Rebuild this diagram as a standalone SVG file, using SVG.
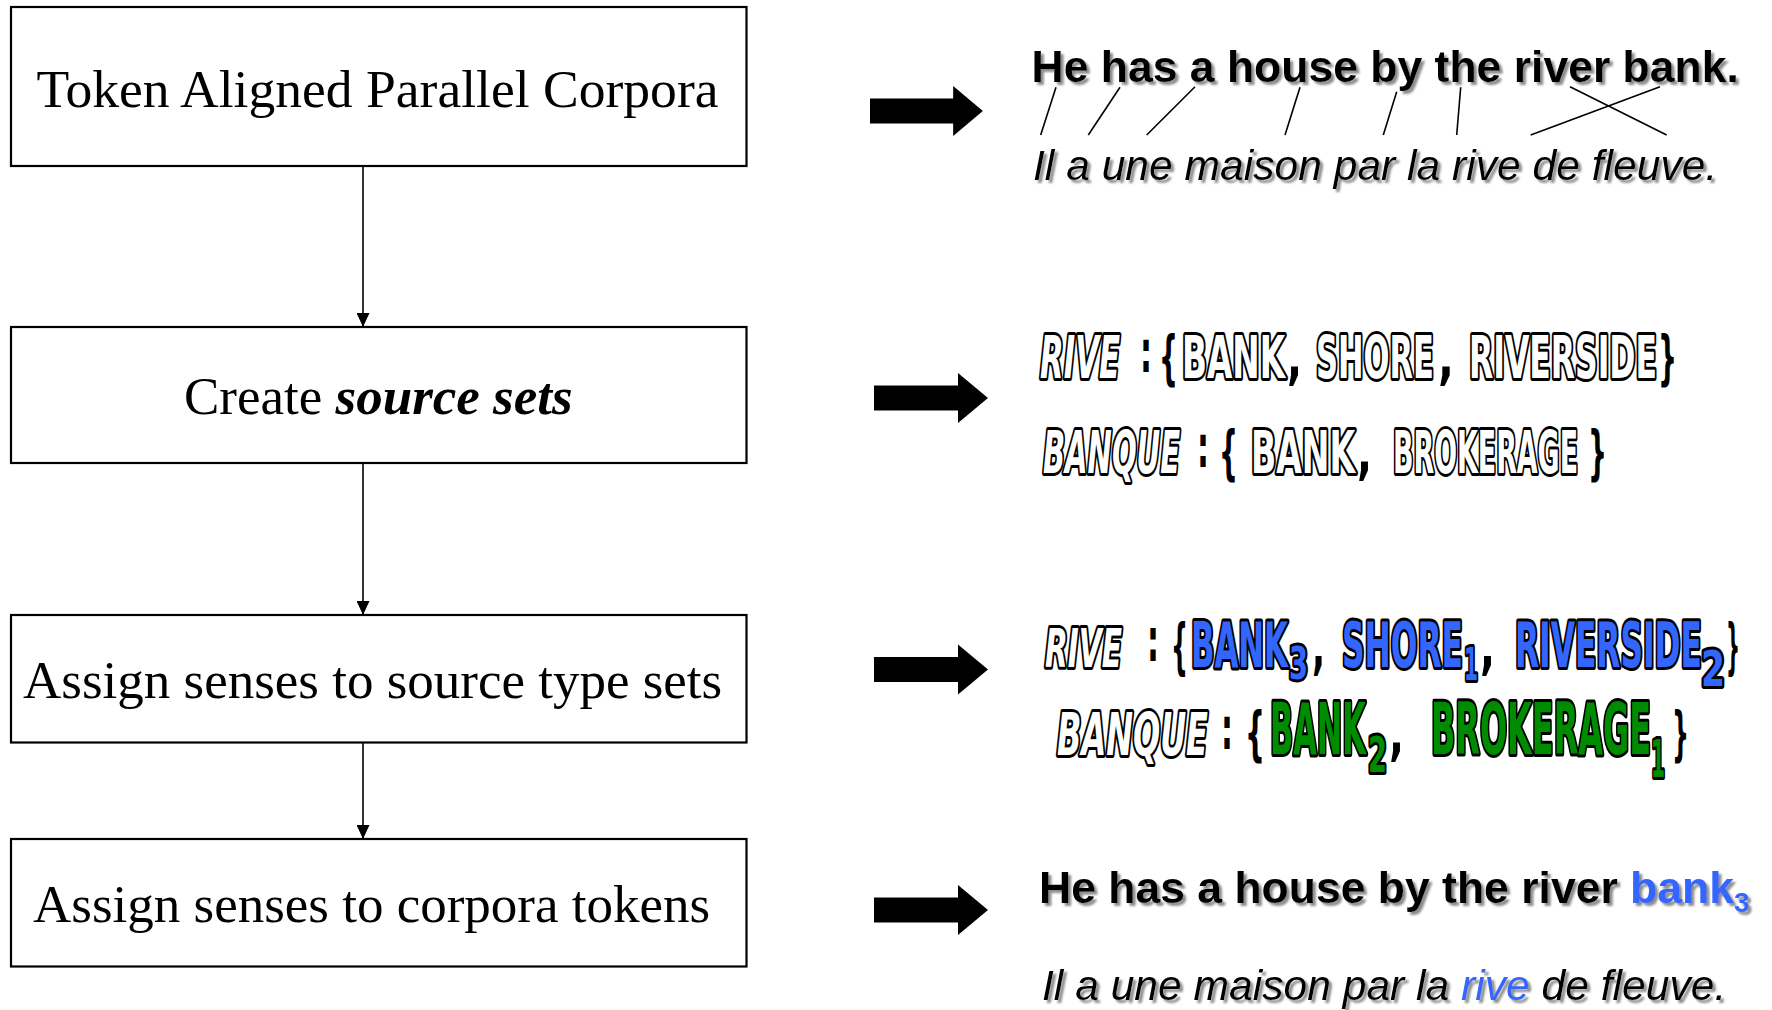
<svg xmlns="http://www.w3.org/2000/svg" width="1772" height="1010" viewBox="0 0 1772 1010">
  <defs>
    <style>
      .box{fill:#fff;stroke:#000;stroke-width:2.2}
      .lbl{font-family:"Liberation Serif","Times New Roman",serif;font-size:53px;fill:#000}
      .conn{stroke:#000;stroke-width:1.6;fill:none}
      .en{font-family:"Liberation Sans",Arial,sans-serif;font-weight:bold;font-size:44.5px;fill:#000;filter:url(#shadow)}
      .fr{font-family:"Liberation Sans",Arial,sans-serif;font-style:italic;font-size:42.6px;fill:#000;filter:url(#shadow)}
      .align{stroke:#000;stroke-width:1.6}
      .imp{font-family:"DejaVu Sans Condensed","DejaVu Sans","Liberation Sans",sans-serif;font-weight:bold;fill:#000}
      .out{stroke:#000;stroke-width:6;paint-order:stroke;stroke-linejoin:round;fill:#fff}
      .it{font-style:italic}
      .blue{fill:#3366ff}
      .green{fill:#008c00}
      .big{fill:#000}
    </style>
    <filter id="shadow" x="-5%" y="-20%" width="110%" height="150%">
      <feDropShadow dx="3" dy="3" stdDeviation="1" flood-color="#8c8c8c" flood-opacity="1"/>
    </filter>
    <marker id="tri" markerUnits="userSpaceOnUse" markerWidth="14" markerHeight="13" viewBox="0 0 14 13" refX="14" refY="6.5" orient="auto">
      <path d="M0,0 L14,6.5 L0,13 Z" fill="#000"/>
    </marker>
    <path id="bigArrow" d="M0,-12.5 H84 V-25 L114,0 L84,25 V12.5 H0 Z"/>
  </defs>

  <rect width="1772" height="1010" fill="#fff"/>

  <!-- flow steps -->
  <g id="step-corpora">
    <rect class="box" x="11" y="7" width="735.5" height="159"/>
    <text class="lbl" x="36.5" y="107" textLength="682" lengthAdjust="spacingAndGlyphs">Token Aligned Parallel Corpora</text>
  </g>
  <g id="step-source-sets">
    <rect class="box" x="11" y="327" width="735.5" height="136"/>
    <text class="lbl" x="184" y="414">Create <tspan font-weight="bold" font-style="italic">source sets</tspan></text>
  </g>
  <g id="step-type-senses">
    <rect class="box" x="11" y="615" width="735.5" height="127.5"/>
    <text class="lbl" x="23" y="698">Assign senses to source type sets</text>
  </g>
  <g id="step-token-senses">
    <rect class="box" x="11" y="839" width="735.5" height="127.5"/>
    <text class="lbl" x="33" y="922">Assign senses to corpora tokens</text>
  </g>

  <!-- flow connectors -->
  <g id="connectors">
    <line class="conn" x1="363" y1="166" x2="363" y2="327" marker-end="url(#tri)"/>
    <line class="conn" x1="363" y1="463" x2="363" y2="615" marker-end="url(#tri)"/>
    <line class="conn" x1="363" y1="742.5" x2="363" y2="839" marker-end="url(#tri)"/>
    <use href="#bigArrow" class="big" transform="translate(870,111) scale(0.99,1)"/>
    <use href="#bigArrow" class="big" transform="translate(874,398)"/>
    <use href="#bigArrow" class="big" transform="translate(874,669.5)"/>
    <use href="#bigArrow" class="big" transform="translate(874,910)"/>
  </g>

  <!-- example: aligned sentence pair -->
  <g id="example-alignment">
    <text class="en" x="1031.5" y="82">He has a house by the river bank.</text>
    <g class="align">
      <line x1="1056" y1="87.3" x2="1040.7" y2="135"/>
      <line x1="1120" y1="87.3" x2="1088.3" y2="135"/>
      <line x1="1195" y1="86.7" x2="1146.7" y2="135"/>
      <line x1="1300" y1="87.3" x2="1285" y2="135"/>
      <line x1="1396.7" y1="91.7" x2="1383.3" y2="135"/>
      <line x1="1460.7" y1="87.3" x2="1456.7" y2="135"/>
      <line x1="1570" y1="86.7" x2="1666.7" y2="135"/>
      <line x1="1660" y1="86.7" x2="1530.7" y2="135"/>
    </g>
    <text class="fr" x="1033" y="180">Il a une maison par la rive de fleuve.</text>
  </g>

  <!-- example: source sets (condensed lettering: rows are squeezed to half width) -->
  <g id="example-source-sets" class="imp" font-size="59" transform="scale(0.5,1)">
    <text y="378"><tspan class="out it" x="2080" textLength="160" lengthAdjust="spacingAndGlyphs">RIVE</tspan><tspan x="2280" y="372" textLength="24" lengthAdjust="spacingAndGlyphs">:</tspan><tspan x="2318" y="378" textLength="38" lengthAdjust="spacingAndGlyphs">{</tspan><tspan class="out" x="2364" textLength="206" lengthAdjust="spacingAndGlyphs">BANK</tspan><tspan x="2574" textLength="30" lengthAdjust="spacingAndGlyphs">,</tspan><tspan class="out" x="2632" textLength="236" lengthAdjust="spacingAndGlyphs">SHORE</tspan><tspan x="2876" textLength="32" lengthAdjust="spacingAndGlyphs">,</tspan><tspan class="out" x="2938" textLength="376" lengthAdjust="spacingAndGlyphs">RIVERSIDE</tspan><tspan x="3316" textLength="38" lengthAdjust="spacingAndGlyphs">}</tspan></text>
    <text y="473"><tspan class="out it" x="2086" textLength="274" lengthAdjust="spacingAndGlyphs">BANQUE</tspan><tspan x="2394" y="467" textLength="24" lengthAdjust="spacingAndGlyphs">:</tspan><tspan x="2438" y="473" textLength="38" lengthAdjust="spacingAndGlyphs">{</tspan><tspan class="out" x="2502" textLength="208" lengthAdjust="spacingAndGlyphs">BANK</tspan><tspan x="2714" textLength="30" lengthAdjust="spacingAndGlyphs">,</tspan><tspan class="out" x="2786" textLength="370" lengthAdjust="spacingAndGlyphs">BROKERAGE</tspan><tspan x="3176" textLength="38" lengthAdjust="spacingAndGlyphs">}</tspan></text>
  </g>

  <!-- example: sense-tagged type sets (same half-width squeeze) -->
  <g id="example-type-senses" class="imp" font-size="60" transform="scale(0.5,1)">
    <text y="667"><tspan class="out it" x="2090" font-size="54" textLength="154" lengthAdjust="spacingAndGlyphs">RIVE</tspan><tspan x="2294" y="661" textLength="24" lengthAdjust="spacingAndGlyphs">:</tspan><tspan x="2342" y="667" textLength="34" lengthAdjust="spacingAndGlyphs">{</tspan><tspan class="out blue" x="2382" font-size="62" textLength="194" lengthAdjust="spacingAndGlyphs">BANK</tspan><tspan class="out blue" x="2578" y="679" font-size="44" textLength="38" lengthAdjust="spacingAndGlyphs">3</tspan><tspan x="2624" y="667" textLength="26" lengthAdjust="spacingAndGlyphs">,</tspan><tspan class="out blue" x="2684" font-size="62" textLength="242" lengthAdjust="spacingAndGlyphs">SHORE</tspan><tspan class="out blue" x="2928" y="680" font-size="44" textLength="28" lengthAdjust="spacingAndGlyphs">1</tspan><tspan x="2960" y="667" textLength="30" lengthAdjust="spacingAndGlyphs">,</tspan><tspan class="out blue" x="3030" font-size="62" textLength="374" lengthAdjust="spacingAndGlyphs">RIVERSIDE</tspan><tspan class="out blue" x="3402" y="686" font-size="50" textLength="48" lengthAdjust="spacingAndGlyphs">2</tspan><tspan x="3452" y="667" textLength="28" lengthAdjust="spacingAndGlyphs">}</tspan></text>
    <text y="755" font-size="59"><tspan class="out it" x="2114" textLength="302" lengthAdjust="spacingAndGlyphs">BANQUE</tspan><tspan x="2442" y="749" textLength="24" lengthAdjust="spacingAndGlyphs">:</tspan><tspan x="2490" y="754" textLength="40" lengthAdjust="spacingAndGlyphs">{</tspan><tspan class="out green" x="2540" font-size="71" textLength="192" lengthAdjust="spacingAndGlyphs">BANK</tspan><tspan class="out green" x="2736" y="772" font-size="50" textLength="38" lengthAdjust="spacingAndGlyphs">2</tspan><tspan x="2778" y="754" textLength="30" lengthAdjust="spacingAndGlyphs">,</tspan><tspan class="out green" x="2862" font-size="71" textLength="440" lengthAdjust="spacingAndGlyphs">BROKERAGE</tspan><tspan class="out green" x="3302" y="777" font-size="52" textLength="28" lengthAdjust="spacingAndGlyphs">1</tspan><tspan x="3344" y="754" textLength="34" lengthAdjust="spacingAndGlyphs">}</tspan></text>
  </g>

  <!-- example: sense-tagged tokens -->
  <g id="example-token-senses">
    <text class="en" x="1039" y="903" font-size="45">He has a house by the river <tspan fill="#3366ff">bank</tspan><tspan fill="#3366ff" font-size="28" dy="9">3</tspan></text>
    <text class="fr" x="1042" y="1000">Il a une maison par la <tspan fill="#3366ff">rive</tspan> de fleuve.</text>
  </g>
</svg>
